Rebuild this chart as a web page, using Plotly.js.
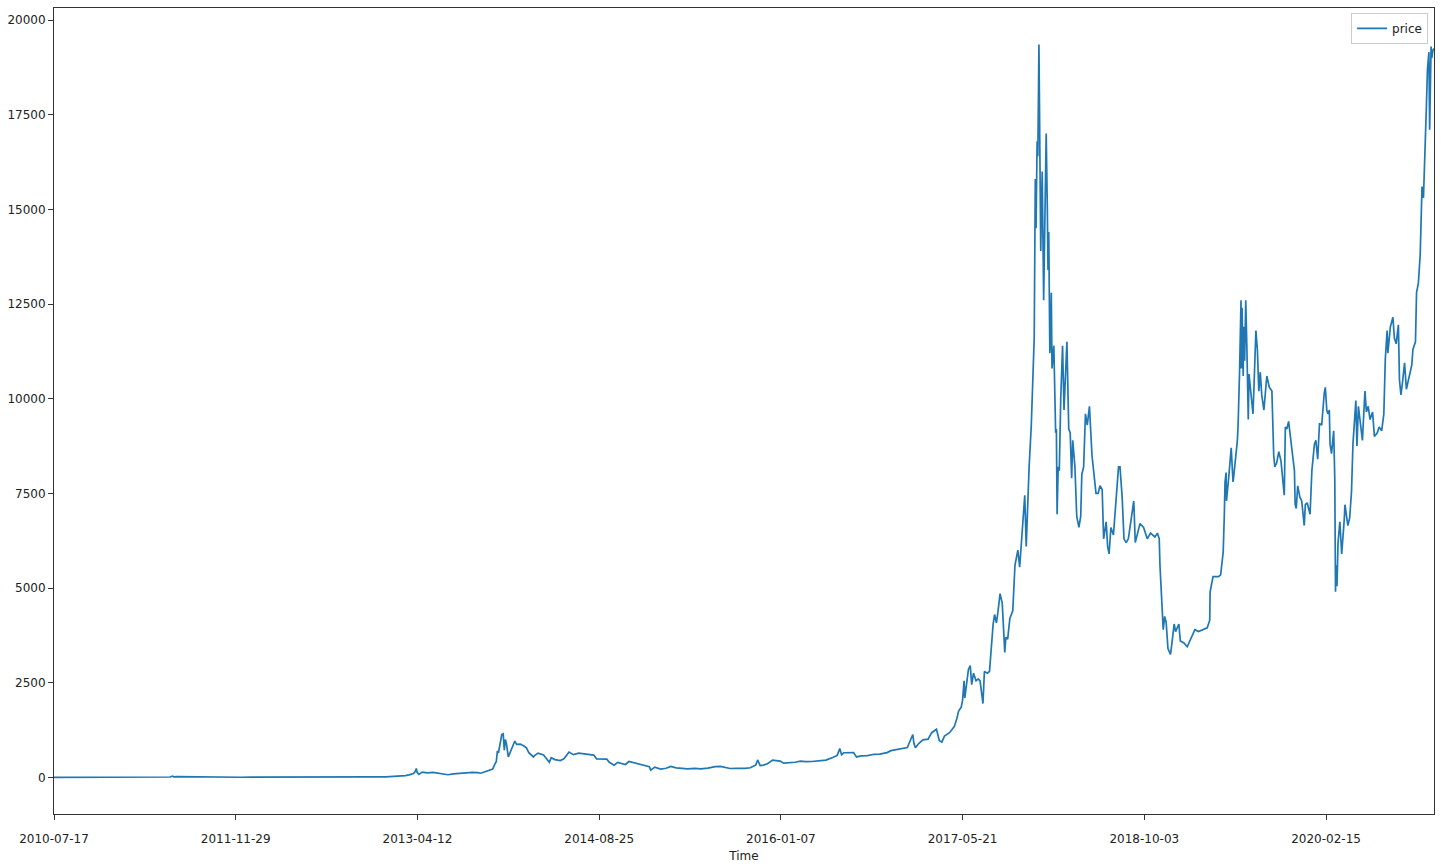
<!DOCTYPE html>
<html>
<head>
<meta charset="utf-8">
<script src="https://cdn.plot.ly/plotly-3.0.1.min.js"></script>
<style>
html,body{margin:0;padding:0;background:#fff;}
#chart{width:1443px;height:867px;}
</style>
</head>
<body>
<div id="chart"></div>
<script>
// ---- data ----
const datesEarly = ["2010-07-17","2010-08-15","2010-09-15","2010-10-15","2010-11-07","2010-12-15","2011-01-15","2011-02-10","2011-03-15","2011-04-15","2011-05-01","2011-05-15","2011-06-01","2011-06-08","2011-06-12","2011-06-20","2011-07-01","2011-07-20","2011-08-10","2011-08-20","2011-09-10","2011-10-01","2011-10-20","2011-11-18","2011-12-15","2012-01-10","2012-02-01","2012-03-01","2012-04-01","2012-05-01","2012-06-01","2012-07-01","2012-07-25","2012-08-16","2012-08-19","2012-09-15","2012-10-15","2012-11-15","2012-12-15","2013-01-15","2013-02-01","2013-02-25","2013-03-10","2013-03-20","2013-04-01","2013-04-05","2013-04-09","2013-04-11","2013-04-16","2013-04-25","2013-05-10","2013-05-25","2013-06-10","2013-06-25","2013-07-05","2013-07-20","2013-08-05","2013-08-25","2013-09-10","2013-09-25","2013-10-03","2013-10-15","2013-10-25","2013-11-05","2013-11-10","2013-11-15","2013-11-18","2013-11-21","2013-11-26","2013-11-30","2013-12-04","2013-12-07","2013-12-10","2013-12-13","2013-12-18","2013-12-22","2013-12-27"];
const pricesEarly = [0.05,0.07,0.06,0.1,0.35,0.25,0.4,1.0,0.87,1.1,3.5,7.5,9.5,29.6,15,17.5,15.5,13.7,10,11,5,5,2.3,2.1,3.2,6.8,6,4.9,4.8,5,5.3,6.7,8.8,13.5,10,11.8,11.8,11,13.5,14.5,20,30,46,67,104,142,235,130,80,140,117,130,108,103,70,90,106,120,130,126,110,150,185,220,330,420,700,650,920,1130,1150,720,1000,880,540,640,760];

const datesMid = ["2014-01-05","2014-01-10","2014-01-20","2014-01-30","2014-02-06","2014-02-12","2014-02-25","2014-03-01","2014-03-10","2014-03-25","2014-04-04","2014-04-10","2014-04-15","2014-04-25","2014-05-10","2014-05-20","2014-05-27","2014-06-03","2014-06-15","2014-06-30","2014-07-15","2014-07-31","2014-08-10","2014-08-18","2014-09-01","2014-09-15","2014-09-22","2014-10-05","2014-10-15","2014-11-05","2014-11-15","2014-12-01","2014-12-15","2014-12-31","2015-01-10","2015-01-14","2015-01-25","2015-02-10","2015-02-25","2015-03-10","2015-03-25","2015-04-10","2015-04-25","2015-05-15","2015-06-01","2015-06-20","2015-07-10","2015-07-25","2015-08-10","2015-08-20","2015-09-10","2015-09-30","2015-10-15","2015-10-30","2015-11-04","2015-11-07","2015-11-11","2015-11-20","2015-12-01","2015-12-15","2015-12-25","2016-01-05","2016-01-15","2016-01-30","2016-02-15","2016-03-01","2016-03-15","2016-04-01","2016-04-20","2016-05-10","2016-05-30","2016-06-10","2016-06-17","2016-06-22","2016-06-28","2016-07-10","2016-07-25","2016-08-02","2016-08-15","2016-09-01","2016-09-20","2016-10-05","2016-10-25","2016-11-05","2016-11-20","2016-12-05","2016-12-20","2016-12-28"];
const pricesMid = [960,870,880,830,780,660,540,580,640,590,450,400,520,470,445,490,580,670,600,640,620,590,590,490,480,480,400,320,395,340,420,380,350,320,280,190,270,220,240,290,250,240,225,240,225,245,285,290,265,235,240,237,255,330,460,380,310,325,360,455,450,430,375,380,400,430,415,420,440,455,530,580,760,600,650,650,655,540,570,575,610,615,655,705,730,765,790,975];

const datesBoom = ["2017-01-04","2017-01-07","2017-01-11","2017-01-20","2017-02-01","2017-02-15","2017-02-25","2017-03-10","2017-03-18","2017-03-25","2017-04-01","2017-04-15","2017-04-28","2017-05-05","2017-05-10","2017-05-17","2017-05-21","2017-05-25","2017-05-27","2017-06-06","2017-06-11","2017-06-15","2017-06-20","2017-06-27","2017-07-03","2017-07-08","2017-07-16","2017-07-20","2017-07-28","2017-08-03","2017-08-07","2017-08-13","2017-08-17","2017-08-22","2017-08-26","2017-09-01","2017-09-07","2017-09-14","2017-09-17","2017-09-22","2017-09-28","2017-10-06","2017-10-12","2017-10-20","2017-10-25","2017-10-31","2017-11-08","2017-11-12","2017-11-17","2017-11-20","2017-11-26","2017-11-29","2017-12-01","2017-12-04","2017-12-07","2017-12-09","2017-12-12","2017-12-14","2017-12-17","2017-12-19","2017-12-22","2017-12-23","2017-12-26","2017-12-30","2018-01-03","2018-01-06","2018-01-09","2018-01-11","2018-01-13","2018-01-16","2018-01-18","2018-01-20","2018-01-22","2018-01-27","2018-02-01","2018-02-03","2018-02-05","2018-02-08","2018-02-11","2018-02-15","2018-02-20","2018-02-24","2018-03-04","2018-03-07","2018-03-09","2018-03-13","2018-03-17","2018-03-20","2018-03-26","2018-03-31","2018-04-06","2018-04-11","2018-04-14","2018-04-19","2018-04-24","2018-04-29","2018-05-05","2018-05-12","2018-05-17","2018-05-23","2018-05-29","2018-06-03","2018-06-09","2018-06-13","2018-06-20","2018-06-24","2018-06-28","2018-07-03","2018-07-10","2018-07-17","2018-07-24","2018-07-28","2018-08-03","2018-08-08","2018-08-14","2018-08-20","2018-08-26","2018-09-04","2018-09-08","2018-09-15","2018-09-21","2018-10-01","2018-10-11","2018-10-20","2018-11-01","2018-11-08","2018-11-13","2018-11-15","2018-11-19","2018-11-21","2018-11-24","2018-11-28","2018-12-02","2018-12-07","2018-12-14","2018-12-18","2018-12-24","2018-12-28"];
const pricesBoom = [1130,900,780,895,990,1010,1180,1270,970,935,1090,1180,1340,1550,1750,1850,2040,2550,2100,2850,2950,2450,2750,2550,2600,2550,1950,2800,2750,2800,3400,4050,4300,4080,4350,4850,4600,3300,3700,3650,4200,4400,5600,6000,5550,6450,7450,6100,7800,8200,9300,10000,10900,11600,15800,14500,16800,16400,19350,17300,13900,14500,16000,12600,15100,17000,15100,13400,14400,11200,11500,12800,10800,11400,9100,9200,6950,8200,8100,10000,11400,9700,11500,9900,9200,9100,7900,8900,8200,6900,6600,6900,8000,8200,9600,9300,9800,8500,8050,7500,7500,7700,7600,6300,6750,6100,5900,6600,6400,7400,8200,8200,7400,6300,6200,6300,6700,7300,6200,6500,6700,6600,6300,6450,6350,6450,6300,5600,4750,4550,3900,4250,4100,3400,3250,3550,4050,3850];

const datesLate = ["2019-01-06","2019-01-10","2019-01-20","2019-01-29","2019-02-08","2019-02-19","2019-03-01","2019-03-15","2019-03-25","2019-04-01","2019-04-02","2019-04-10","2019-04-25","2019-05-01","2019-05-08","2019-05-11","2019-05-13","2019-05-16","2019-05-17","2019-05-23","2019-05-30","2019-06-04","2019-06-06","2019-06-16","2019-06-18","2019-06-22","2019-06-26","2019-06-27","2019-06-29","2019-07-02","2019-07-03","2019-07-06","2019-07-09","2019-07-12","2019-07-14","2019-07-16","2019-07-18","2019-07-22","2019-07-25","2019-07-29","2019-08-01","2019-08-06","2019-08-10","2019-08-14","2019-08-18","2019-08-22","2019-08-28","2019-09-05","2019-09-12","2019-09-19","2019-09-24","2019-09-27","2019-10-02","2019-10-08","2019-10-14","2019-10-23","2019-10-26","2019-10-30","2019-11-04","2019-11-10","2019-11-15","2019-11-20","2019-11-22","2019-11-25","2019-11-29","2019-12-05","2019-12-10","2019-12-17","2019-12-20","2019-12-25","2020-01-02","2020-01-07","2020-01-14","2020-01-18","2020-01-23","2020-01-28","2020-02-03","2020-02-10","2020-02-13","2020-02-17","2020-02-20","2020-02-24","2020-02-26","2020-03-01","2020-03-07","2020-03-10","2020-03-12","2020-03-13","2020-03-16","2020-03-19","2020-03-24","2020-03-29","2020-04-05","2020-04-07","2020-04-15","2020-04-20","2020-04-25","2020-04-29","2020-05-07","2020-05-10","2020-05-14","2020-05-25","2020-06-01","2020-06-05","2020-06-10","2020-06-15","2020-06-22","2020-06-27","2020-07-05","2020-07-10","2020-07-17","2020-07-23","2020-07-27","2020-08-01","2020-08-03","2020-08-10","2020-08-17","2020-08-21","2020-08-26","2020-09-01","2020-09-04","2020-09-08","2020-09-12","2020-09-18","2020-09-23","2020-10-01","2020-10-08","2020-10-11","2020-10-18","2020-10-21","2020-10-26","2020-10-31","2020-11-05","2020-11-09","2020-11-13","2020-11-17","2020-11-20","2020-11-24","2020-11-26","2020-11-30","2020-12-02","2020-12-05","2020-12-08"];
const pricesLate = [4050,3600,3550,3450,3650,3900,3850,3900,3950,4150,4900,5300,5300,5350,5950,6900,7800,8050,7300,7900,8700,7800,7950,8900,9300,10700,12600,10800,12400,10600,11900,11000,12600,11400,10300,9450,10650,10300,9900,9600,10400,11800,11300,10200,10700,10100,9700,10600,10300,10200,8500,8200,8300,8600,8350,7450,9250,9200,9400,8800,8500,8100,7200,7100,7700,7400,7300,6650,7200,7250,6950,8100,8800,8900,8400,9350,9300,10150,10300,9700,9600,9700,8800,8550,9150,7900,4900,5600,5050,6200,6750,5900,6800,7200,6650,6850,7550,8800,9950,8750,9800,8900,10200,9650,9800,9450,9650,9000,9100,9250,9150,9600,11050,11800,11200,11900,12150,11600,11450,11950,10500,10100,10400,10950,10250,10600,10900,11300,11500,12800,13050,13800,15600,15300,16300,17700,18700,19150,17100,19300,19000,19200,19250];

const xTickDates = ["2010-07-17","2011-11-29","2013-04-12","2014-08-25","2016-01-07","2017-05-21","2018-10-03","2020-02-15"];
const yTicks = [0,2500,5000,7500,10000,12500,15000,17500,20000];
const seriesName = "price";
const xTitle = "Time";

const xs = datesEarly.concat(datesMid, datesBoom, datesLate);
const ys = pricesEarly.concat(pricesMid, pricesBoom, pricesLate);

const trace = {
  x: xs, y: ys, type: "scatter", mode: "lines", name: seriesName,
  line: {color: "#1f77b4", width: 1.7}
};

const axisCommon = {
  showline: true, linecolor: "#333", linewidth: 1, mirror: true,
  ticks: "outside", ticklen: 5, tickcolor: "#333", tickwidth: 1,
  showgrid: false, zeroline: false,
  tickfont: {family: "DejaVu Sans", size: 12, color: "#222"}
};

const layout = {
  width: 1443, height: 867,
  margin: {l: 54, r: 9, t: 8, b: 53},
  paper_bgcolor: "#fff", plot_bgcolor: "#fff",
  showlegend: true,
  legend: {x: 0.9957, y: 0.994, xanchor: "right", yanchor: "top",
    bgcolor: "rgba(255,255,255,0.8)", bordercolor: "#cccccc", borderwidth: 1,
    font: {family: "DejaVu Sans", size: 12, color: "#222"},
    tracegroupgap: 0, itemwidth: 30},
  xaxis: Object.assign({}, axisCommon, {
    type: "date", range: ["2010-07-17", "2020-12-08"],
    tickvals: xTickDates, ticktext: xTickDates, ticklabelstandoff: 9,
    title: {text: xTitle, font: {family: "DejaVu Sans", size: 12, color: "#222"}, standoff: 6}
  }),
  yaxis: Object.assign({}, axisCommon, {
    range: [-967, 20317], tickvals: yTicks, ticktext: yTicks.map(String)
  })
};

Plotly.newPlot("chart", [trace], layout, {staticPlot: true, displayModeBar: false});
</script>
</body>
</html>
